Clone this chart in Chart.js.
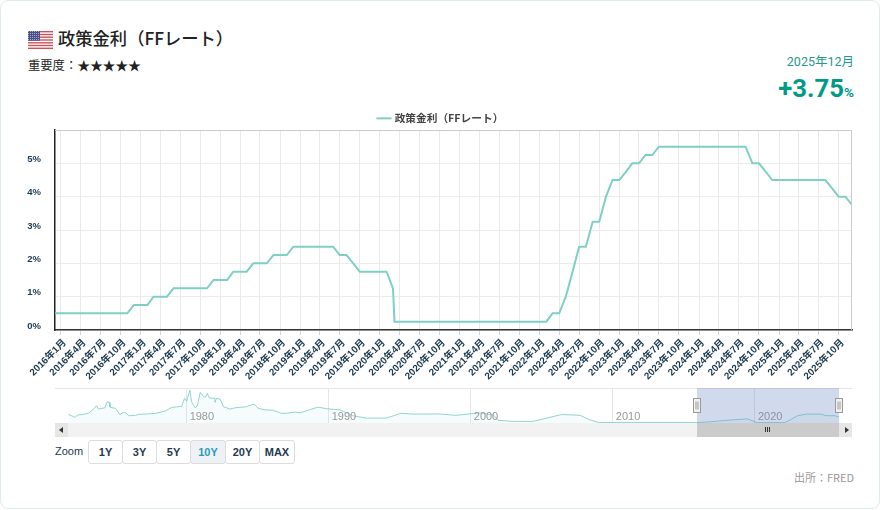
<!DOCTYPE html>
<html lang="ja"><head><meta charset="utf-8">
<script src="https://cdn.jsdelivr.net/npm/chart.js@4/dist/chart.umd.min.js"></script>
<style>
html,body{margin:0;padding:0;background:#fff;width:880px;height:510px;overflow:hidden;font-family:"Liberation Sans","Noto Sans CJK JP",sans-serif}
.abs{position:absolute}
#card{left:0;top:0;width:878px;height:507px;border:1px solid #dfeaea;border-radius:8px}
#title{left:58px;top:26px;font:500 17.3px/24px "Noto Sans CJK JP",sans-serif;color:#222;white-space:nowrap}
#imp{left:28px;top:56px;font:400 12.3px/18px "Noto Sans CJK JP",sans-serif;color:#222;white-space:nowrap}
#imp span{font-size:13px;letter-spacing:-.3px}
#date{right:26px;top:53px;font:400 12.5px/18px "Roboto","Noto Sans CJK JP",sans-serif;color:#1f9a8c;white-space:nowrap}
#val{right:26px;top:72px;font:700 25.7px/32px "Roboto",sans-serif;color:#009a86;white-space:nowrap}
#val small{font-size:13.5px}
#zoomLabel{left:55px;top:444px;font:400 11px/14px "Liberation Sans",sans-serif;color:#1e3a4f}
.btn{position:absolute;top:440px;height:22px;box-sizing:content-box;border:1px solid #ddd;border-radius:3px;background:#fff;font:700 11px/22px "Liberation Sans",sans-serif;color:#1e3a4f;text-align:center}
.btn.on{background:#eef2f6;color:#2a9ab8}
#src{right:26px;top:469px;font:400 11px/16px "Noto Sans CJK JP",sans-serif;color:#999;white-space:nowrap}
canvas{position:absolute;display:block}
</style></head><body>
<div id="card" class="abs"></div>
<svg class="abs" style="left:28px;top:31px" width="25" height="18" viewBox="0 0 25 18">
<defs><pattern id="st" width="2" height="2" patternUnits="userSpaceOnUse"><rect width="2" height="2" fill="#4a4f86"/><rect width="1" height="1" fill="#a9abc9"/></pattern></defs>
<rect width="25" height="18" fill="#fff"/>
<g fill="#d0505c"><rect y="0" width="25" height="1.4"/><rect y="2.8" width="25" height="1.4"/><rect y="5.5" width="25" height="1.4"/><rect y="8.3" width="25" height="1.4"/><rect y="11.1" width="25" height="1.4"/><rect y="13.8" width="25" height="1.4"/><rect y="16.6" width="25" height="1.4"/></g>
<rect width="12" height="9.7" fill="url(#st)"/>
</svg>
<div id="title" class="abs">政策金利（FFレート）</div>
<div id="imp" class="abs">重要度：<span>★★★★★</span></div>
<div id="date" class="abs">2025年12月</div>
<div id="val" class="abs">+3.75<small>%</small></div>

<div class="abs" style="left:55px;top:388px;width:797px;height:1px;background:#e6e6e6"></div>
<div class="abs" style="left:55px;top:423px;width:797px;height:14px;background:#f2f2f2"></div>
<div class="abs" style="left:55px;top:423px;width:13px;height:14px;background:#e6e6e6"></div>
<div class="abs" style="left:59px;top:427px;width:0;height:0;border:3px solid transparent;border-right:4px solid #333;border-left:0"></div>
<div class="abs" style="left:697px;top:423px;width:142px;height:14px;background:#cbcbcb"></div>
<div class="abs" style="left:765px;top:427px;width:1px;height:5px;background:#333;box-shadow:2px 0 #333,4px 0 #333"></div>
<div class="abs" style="left:839px;top:423px;width:13px;height:14px;background:#e6e6e6"></div>
<div class="abs" style="left:845px;top:427px;width:0;height:0;border:3px solid transparent;border-left:4px solid #333;border-right:0"></div>

<canvas id="main" width="874" height="280" style="left:0;top:100px;width:874px;height:280px"></canvas>
<canvas id="nav" width="880" height="38" style="left:0;top:385px;width:880px;height:38px"></canvas>

<div id="zoomLabel" class="abs">Zoom</div>
<div class="btn" style="left:88px;width:33px">1Y</div>
<div class="btn" style="left:122px;width:33px">3Y</div>
<div class="btn" style="left:156px;width:33px">5Y</div>
<div class="btn on" style="left:190px;width:34px">10Y</div>
<div class="btn" style="left:225px;width:33px">20Y</div>
<div class="btn" style="left:259px;width:34px">MAX</div>
<div id="src" class="abs">出所：FRED</div>

<script>
const seriesName = "政策金利（FFレート）";
const rateStart = [2015, 11]; // first reading: December 2015, one value per month
const rateValues = [
 0.5,
 0.5,0.5,0.5,0.5,0.5,0.5,0.5,0.5,0.5,0.5,0.5,0.75,
 0.75,0.75,1,1,1,1.25,1.25,1.25,1.25,1.25,1.25,1.5,
 1.5,1.5,1.75,1.75,1.75,2,2,2,2.25,2.25,2.25,2.5,
 2.5,2.5,2.5,2.5,2.5,2.5,2.25,2.25,2,1.75,1.75,1.75,
 1.75,1.75,1.25,0.25,0.25,0.25,0.25,0.25,0.25,0.25,0.25,0.25,
 0.25,0.25,0.25,0.25,0.25,0.25,0.25,0.25,0.25,0.25,0.25,0.25,
 0.25,0.25,0.5,0.5,1,1.75,2.5,2.5,3.25,3.25,4,4.5,
 4.5,4.75,5,5,5.25,5.25,5.5,5.5,5.5,5.5,5.5,5.5,
 5.5,5.5,5.5,5.5,5.5,5.5,5.5,5.5,5,5,4.75,4.5,
 4.5,4.5,4.5,4.5,4.5,4.5,4.5,4.5,4.25,4,4,3.75
];
const extraReading = { date:[2020,2,8], value:0.25 }; // second March 2020 cut
const tickLabels = [
 "2016年1月","2016年4月","2016年7月","2016年10月","2017年1月","2017年4月","2017年7月","2017年10月",
 "2018年1月","2018年4月","2018年7月","2018年10月","2019年1月","2019年4月","2019年7月","2019年10月",
 "2020年1月","2020年4月","2020年7月","2020年10月","2021年1月","2021年4月","2021年7月","2021年10月",
 "2022年1月","2022年4月","2022年7月","2022年10月","2023年1月","2023年4月","2023年7月","2023年10月",
 "2024年1月","2024年4月","2024年7月","2024年10月","2025年1月","2025年4月","2025年7月","2025年10月"
];
const yTicks = [0,1,2,3,4,5,6];
const navYears = [1971.68,1971.9,1972.15,1972.3,1972.7,1973.1,1973.4,1973.65,1973.8,1974.25,1974.4,1974.55,1974.6,1975,1975.3,1975.55,1975.7,1975.95,1976.4,1976.6,1977.8,1978.5,1978.95,1979.65,1979.85,1980,1980.23,1980.35,1980.6,1980.75,1980.96,1981.2,1981.35,1981.45,1981.6,1981.98,1982,1982.1,1982.35,1982.6,1983.05,1983.4,1984.2,1984.75,1985.05,1985.5,1986.1,1986.7,1987.1,1987.6,1988,1988.65,1989.25,1989.85,1990.8,1991.7,1992.65,1994.05,1995.1,1995.95,1997.8,1998.95,2000.6,2001.6,2001.9,2002.95,2004.4,2006.4,2007.7,2008.3,2009,2015.9,2016.9,2017.5,2018.5,2019.5,2020.15,2020.25,2022.1,2022.5,2023,2023.6,2024.65,2025,2025.65,2025.92];
const navValues = [5.3,4.5,3.4,4.9,5.3,6.1,8.2,10.6,8.6,9.4,13.1,12.7,9.8,9,5.3,6.5,6.3,4.5,4.7,5.3,5.9,7.4,9.6,10.3,15.2,13.5,20.3,13.1,9.4,10.6,18.9,16.2,16.2,18.3,15.5,15.2,12.7,15.2,14.8,10,8.6,9.4,10,11.8,9,8.2,7.8,5.9,6.1,6.7,6.3,8.2,9.8,8.8,8.1,4.5,3,3,6,5.5,5.6,4.7,6.3,4.9,1.7,1,1,5.25,4.75,2.25,0.25,0.25,0.75,1.25,2,2.5,0.25,0.25,0.25,2,4.5,5.5,5.5,4.5,4.5,3.75];
const navTicks = [1980,1990,2000,2010,2020];
const navSelection = [2015.92, 2025.92];

const TEAL = "#7fcfc5", INK = "#1e3a4f";
const LABEL_FONT = '"Liberation Sans","Noto Sans CJK JP",sans-serif';
const ms = (y,m,d=1) => Date.UTC(y,m,d);

const rateData = rateValues.map((v,i) => ({x: ms(rateStart[0], rateStart[1]+i), y: v}));
rateData.push({x: ms(...extraReading.date), y: extraReading.value});
rateData.sort((a,b) => a.x-b.x);
const tickDates = tickLabels.map(s => { const m = s.match(/(\d+)年(\d+)月/); return ms(+m[1], +m[2]-1); });

const frame = { id:"frame",
  beforeLayout(c){
    const l = c.legend;
    if (l && !l._pinned) { const f = l.fit; l.fit = function(){ f.call(this); this.height = 20; }; l._pinned = true; }
  },
  afterLayout(c){ c.legend.left += 4; c.legend.right += 4; },
  afterDatasetsDraw(c){
    const a = c.chartArea, g = c.ctx; g.save(); g.strokeStyle="#ccc"; g.lineWidth=1;
    g.beginPath(); g.moveTo(a.left,a.top+.5); g.lineTo(a.right-.5,a.top+.5); g.lineTo(a.right-.5,a.bottom); g.stroke(); g.restore();
  }
};

new Chart(document.getElementById("main"), {
  type:"line",
  data:{ datasets:[{ label:seriesName, data:rateData, borderColor:TEAL, backgroundColor:TEAL, borderWidth:2, pointRadius:0, tension:0 }] },
  options:{
    responsive:false, animation:false, devicePixelRatio:1,
    layout:{ padding:{ left:22, right:22, top:10, bottom:0 } },
    plugins:{
      tooltip:{enabled:false},
      legend:{ position:"top", labels:{ usePointStyle:true, pointStyle:"line", boxWidth:14, padding:3, color:"#444", font:{ family:'"Noto Sans CJK JP",sans-serif', size:10.7, weight:"bold" } } }
    },
    scales:{
      x:{ type:"linear", min:ms(2015,11,6), max:ms(2025,11,1),
        afterBuildTicks(s){ s.ticks = tickDates.map(v => ({value:v})); },
        afterFit(s){ s.height=50; s.paddingLeft=0; s.paddingRight=0; },
        grid:{ color:"#e9e9e9", lineWidth:1, tickColor:"#ccd6eb", tickLength:5 },
        border:{ color:"#333", width:1.5 },
        ticks:{ autoSkip:false, minRotation:45, maxRotation:45, padding:2, labelOffset:4, color:INK,
          font:{ family:LABEL_FONT, size:9.8, weight:"bold" },
          callback(v){ const i = tickDates.indexOf(v); return i<0 ? null : tickLabels[i]; } }
      },
      y:{ min:0, max:6,
        afterBuildTicks(s){ s.ticks = yTicks.map(v => ({value:v})); },
        afterFit(s){ s.width=33; s.paddingTop=0; s.paddingBottom=0; },
        grid:{ color:"#ececec", lineWidth:1, drawTicks:false },
        border:{ color:"#222", width:1.5 },
        ticks:{ padding:14, labelOffset:-4, color:INK, font:{ family:LABEL_FONT, size:9.5, weight:"bold" },
          callback(v){ return v===6 ? null : v+"%"; } }
      }
    }
  },
  plugins:[frame]
});

const navOverlay = { id:"navOverlay", afterDatasetsDraw(c){
  const g = c.ctx, a = c.chartArea, x = c.scales.x;
  g.save();
  g.fillStyle="#999"; g.font='11px '+LABEL_FONT; g.textAlign="left"; g.textBaseline="alphabetic";
  navTicks.forEach(v => g.fillText(String(v), x.getPixelForValue(v)+3, 35));
  const x0 = x.getPixelForValue(navSelection[0]), x1 = x.getPixelForValue(navSelection[1]);
  g.fillStyle="rgba(102,133,194,0.3)"; g.fillRect(x0,a.top,x1-x0,a.bottom-a.top);
  [x0,x1].forEach(h => {
    const l = Math.round(h)-3.5, t = 398-385+.5;
    g.fillStyle="#f2f2f2"; g.strokeStyle="#999"; g.lineWidth=1;
    g.fillRect(l,t,7,14); g.strokeRect(l,t,7,14);
    g.beginPath(); g.moveTo(l+2.5,t+3); g.lineTo(l+2.5,t+11); g.moveTo(l+4.5,t+3); g.lineTo(l+4.5,t+11); g.stroke();
  });
  g.restore();
}};

new Chart(document.getElementById("nav"), {
  type:"line",
  data:{ datasets:[{ data:navYears.map((y,i) => ({x:y, y:navValues[i]})), borderColor:"rgba(127,207,197,0.85)", borderWidth:1, backgroundColor:"rgba(127,207,197,0.07)", fill:"origin", pointRadius:0, tension:0 }] },
  options:{
    responsive:false, animation:false, devicePixelRatio:1,
    layout:{ padding:{ left:68, right:41, top:3, bottom:0 } },
    plugins:{ legend:{display:false}, tooltip:{enabled:false} },
    scales:{
      x:{ type:"linear", min:1971.65, max:2025.92,
        afterBuildTicks(s){ s.ticks = navTicks.map(v => ({value:v})); },
        afterFit(s){ s.height=0; s.paddingLeft=0; s.paddingRight=0; },
        grid:{ color:"#e6e6e6", drawTicks:false },
        border:{ display:false },
        ticks:{ display:false }
      },
      y:{ display:false, min:0, max:21.6 }
    }
  },
  plugins:[navOverlay]
});
</script>
</body></html>
